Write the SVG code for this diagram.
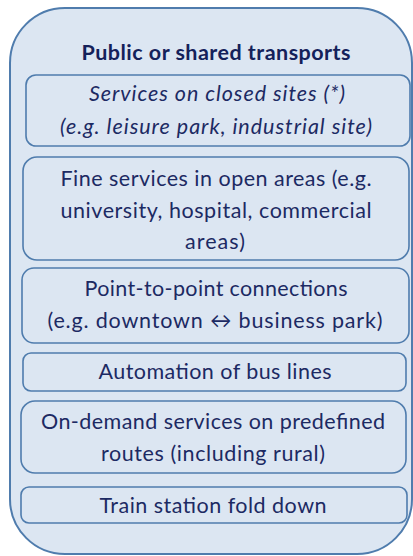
<svg xmlns="http://www.w3.org/2000/svg" width="413" height="556" viewBox="0 0 413 556">
<style>
.box{fill:#dce6f2;stroke:#4f7cad;stroke-width:1.6}
.outer{fill:#dce6f2;stroke:#4f7cad;stroke-width:2}
text{font-family:Lato,"Open Sans","DejaVu Sans",sans-serif;font-size:21.5px;fill:#1c2a63;text-anchor:middle}
.t{font-weight:bold;fill:#14215a}
.i{font-style:italic}
</style>
<rect width="413" height="556" fill="#ffffff"/>
<g id="container">
<rect class="outer" x="10" y="8" width="402" height="546" rx="55" ry="55"/>
<text class="t" x="216" y="60" textLength="269">Public or shared transports</text>
</g>
<g id="n1">
<rect class="box" x="26" y="75" width="384" height="71" rx="10"/>
<text class="i" x="217" y="101" textLength="256">Services on closed sites (*)</text>
<text class="i" x="216" y="134" textLength="312">(e.g. leisure park, industrial site)</text>
</g>
<g id="n2">
<rect class="box" x="23" y="157" width="386" height="103" rx="14"/>
<text x="216" y="186" textLength="311">Fine services in open areas (e.g.</text>
<text x="216" y="218" textLength="311">university, hospital, commercial</text>
<text x="215" y="249" textLength="60">areas)</text>
</g>
<g id="n3">
<rect class="box" x="22" y="268" width="387" height="75" rx="12"/>
<text x="216" y="296" textLength="263">Point-to-point connections</text>
<text x="215" y="328" textLength="335">(e.g. downtown ↔ business park)</text>
</g>
<g id="n4">
<rect class="box" x="23" y="353" width="383" height="38" rx="8"/>
<text x="215" y="379" textLength="233">Automation of bus lines</text>
</g>
<g id="n5">
<rect class="box" x="21" y="401" width="385" height="72" rx="14"/>
<text x="213" y="429" textLength="344">On-demand services on predefined</text>
<text x="213" y="461" textLength="224">routes (including rural)</text>
</g>
<g id="n6">
<rect class="box" x="21" y="487" width="386" height="36" rx="8"/>
<text x="213" y="513" textLength="227">Train station fold down</text>
</g>
<g id="connectors"></g>
</svg>
